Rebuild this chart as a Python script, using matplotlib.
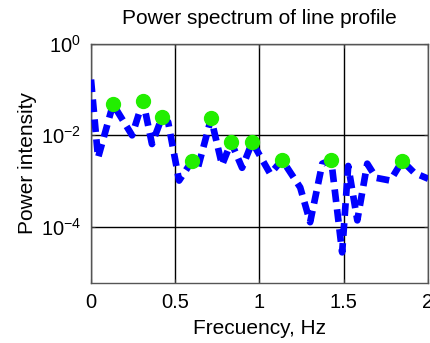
import matplotlib
matplotlib.use("Agg")
import matplotlib.pyplot as plt
import numpy as np
from matplotlib.ticker import FixedLocator, NullLocator

plt.rcParams['font.family'] = ['Liberation Sans', 'DejaVu Sans']
plt.rcParams['mathtext.fontset'] = 'custom'
plt.rcParams['mathtext.rm'] = 'Liberation Sans'
plt.rcParams['mathtext.it'] = 'Liberation Sans'

# Power spectrum of the line profile (log10 of power)
freq = [0.0, 0.042, 0.131, 0.244, 0.309, 0.362, 0.422, 0.458, 0.523, 0.600,
        0.636, 0.713, 0.778, 0.832, 0.897, 0.957, 1.064, 1.135, 1.242, 1.301,
        1.373, 1.426, 1.491, 1.527, 1.581, 1.640, 1.693, 1.777, 1.848, 1.919,
        2.002]
log_power = [-0.78, -2.49, -1.32, -2.00, -1.24, -2.19, -1.60, -1.71, -2.99, -2.56,
             -2.69, -1.63, -2.65, -2.15, -2.71, -2.15, -2.84, -2.54, -3.14, -3.90,
             -2.62, -2.54, -4.56, -2.67, -3.86, -2.62, -2.93, -2.99, -2.56, -2.82,
             -2.95]

# Detected spectral peaks
peak_freq = [0.131, 0.309, 0.422, 0.600, 0.713, 0.832, 0.957, 1.135, 1.426, 1.848]
peak_log_power = [-1.32, -1.24, -1.60, -2.56, -1.63, -2.15, -2.15, -2.54, -2.54, -2.56]

xticks = [0, 0.5, 1, 1.5, 2]
xtick_labels = ['0', '0.5', '1', '1.5', '2']
yticks = [1e0, 1e-2, 1e-4]
ytick_labels = [r'$10^{0}$', r'$10^{-2}$', r'$10^{-4}$']

power = 10.0 ** np.array(log_power)
peak_power = 10.0 ** np.array(peak_log_power)

fig = plt.figure(figsize=(4.30, 3.43), dpi=100)
ax = fig.add_axes([0.2116, 0.175, 0.7835, 0.697])

ax.set_yscale('log')
ax.plot(freq, power, color='#0000ff', linewidth=4.8, linestyle=(0, (1.9, 1.1)),
        dash_capstyle='butt', solid_capstyle='butt', zorder=3)
ax.plot(peak_freq, peak_power, linestyle='none', marker='o', markersize=10,
        markerfacecolor='#22ee00', markeredgecolor='#22ee00', zorder=4)

ax.set_xlim(0, 2)
ax.set_ylim(10 ** -5.23, 1)
ax.xaxis.set_major_locator(FixedLocator(xticks))
ax.set_xticklabels(xtick_labels)
ax.yaxis.set_major_locator(FixedLocator(yticks))
ax.yaxis.set_minor_locator(NullLocator())
ax.set_yticklabels(ytick_labels)

ax.grid(True, which='major', color='black', linewidth=1.0, linestyle='-')
ax.set_axisbelow(True)
ax.tick_params(axis='both', which='major', direction='in', length=3,
               top=True, right=True, labelsize=14.5, pad=7, color='#333333')
for sp in ax.spines.values():
    sp.set_color('#555555')
    sp.set_linewidth(1.0)

ax.set_title('Power spectrum of line profile', fontsize=15, pad=14)
ax.set_xlabel('Frecuency, Hz', fontsize=15, labelpad=5)
ax.set_ylabel('Power intensity', fontsize=15, labelpad=3)

fig.savefig('out.png', dpi=100)
